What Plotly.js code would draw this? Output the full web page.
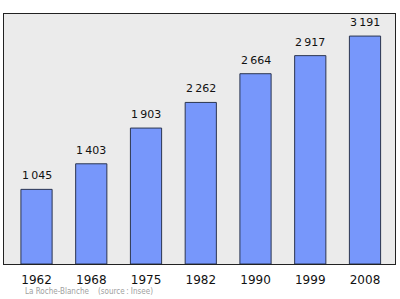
<!DOCTYPE html>
<html>
<head>
<meta charset="utf-8">
<script src="https://cdn.plot.ly/plotly-3.0.1.min.js"></script>
<style>html,body{margin:0;padding:0;background:#fff;}#chart{width:400px;height:299px;}</style>
</head>
<body>
<div id="chart"></div>
<script>
// Population of La Roche-Blanche by census year
const years = ['1962', '1968', '1975', '1982', '1990', '1999', '2008'];
const population = [1045, 1403, 1903, 2262, 2664, 2917, 3191];

// French-style thousands separator with a thin space
function fmt(v) {
  return String(v).replace(/\B(?=(\d{3})+(?!\d))/g, '\u2009');
}

const trace = {
  type: 'bar',
  x: years,
  y: population,
  width: 0.57,
  marker: {color: '#7797fb', line: {color: '#2b3550', width: 1}},
  hoverinfo: 'skip'
};

// Value labels above each bar (x given as category index)
const annotations = population.map((v, i) => ({
  x: i, y: v, xref: 'x', yref: 'y',
  text: fmt(v), showarrow: false,
  yanchor: 'bottom', yshift: 5,
  font: {family: 'DejaVu Sans', size: 11, color: '#111'}
}));

annotations.push({
  xref: 'paper', yref: 'paper', x: 0.048, y: -0.11,
  xanchor: 'left', yanchor: 'middle', showarrow: false,
  text: 'La Roche-Blanche&nbsp;&nbsp;&nbsp;&nbsp;(source\u202f: Insee)',
  font: {family: 'DejaVu Sans Condensed, DejaVu Sans', size: 8, color: '#a0a0a0'}
});

const layout = {
  width: 400, height: 299,
  margin: {l: 4, r: 5, t: 14, b: 35, pad: 0},
  paper_bgcolor: '#ffffff',
  plot_bgcolor: '#ebebeb',
  showlegend: false,
  xaxis: {
    type: 'category', range: [-0.594, 6.548],
    showline: true, mirror: true, linecolor: '#222', linewidth: 1,
    ticks: 'outside', ticklen: 5, tickcolor: 'rgba(0,0,0,0)',
    showgrid: false, zeroline: false,
    tickfont: {family: 'DejaVu Sans', size: 12, color: '#111'}
  },
  yaxis: {
    range: [0, 3500], showticklabels: false, ticks: '',
    showline: true, mirror: true, linecolor: '#222', linewidth: 1,
    showgrid: false, zeroline: false
  },
  annotations: annotations
};

Plotly.newPlot('chart', [trace], layout, {displayModeBar: false, staticPlot: true});
</script>
</body>
</html>
